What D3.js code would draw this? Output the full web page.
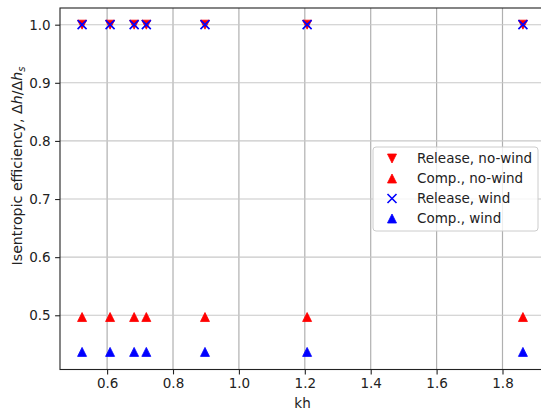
<!DOCTYPE html>
<html>
<head>
<meta charset="utf-8">
<script src="https://cdn.jsdelivr.net/npm/d3@7"></script>
<style>
  body { margin: 0; background: #fff; }
  svg { display: block; font-family: "DejaVu Sans", sans-serif; }
</style>
</head>
<body>
<div id="chart"></div>
<script>
// values
const kh = [0.524, 0.609, 0.682, 0.719, 0.897, 1.207, 1.862];
const releaseNoWind = [1, 1, 1, 1, 1, 1, 1];
const compNoWind = [0.497, 0.497, 0.497, 0.497, 0.497, 0.497, 0.497];
const releaseWind = [1, 1, 1, 1, 1, 1, 1];
const compWind = [0.437, 0.437, 0.437, 0.437, 0.437, 0.437, 0.437];
const xTicks = [0.6, 0.8, 1.0, 1.2, 1.4, 1.6, 1.8];
const yTicks = [0.5, 0.6, 0.7, 0.8, 0.9, 1.0];
const legendLabels = ['Release, no-wind', 'Comp., no-wind', 'Release, wind', 'Comp., wind'];

const width = 541, height = 411;
const margin = { top: 8, right: -4, bottom: 41.5, left: 60 };
const fontSize = 13.5;

const svg = d3.select('#chart').append('svg')
  .attr('width', width)
  .attr('height', height);

const x = d3.scaleLinear()
  .domain([0.457, 1.929])
  .range([margin.left, width - margin.right]);

const y = d3.scaleLinear()
  .domain([0.4067, 1.0287])
  .range([height - margin.bottom, margin.top]);

// grid
const grid = svg.append('g');
grid.selectAll('line.vx')
  .data(xTicks)
  .join('line')
  .attr('class', 'vx')
  .attr('x1', d => x(d)).attr('x2', d => x(d))
  .attr('y1', y.range()[0]).attr('y2', y.range()[1])
  .attr('stroke', '#b0b0b0')
  .attr('stroke-width', 1.2);
grid.selectAll('line.hy')
  .data(yTicks)
  .join('line')
  .attr('class', 'hy')
  .attr('x1', x.range()[0]).attr('x2', x.range()[1])
  .attr('y1', d => y(d)).attr('y2', d => y(d))
  .attr('stroke', '#c8c8c8')
  .attr('stroke-width', 1.1);

// axes
const xAxis = svg.append('g')
  .attr('transform', `translate(0,${y.range()[0]})`)
  .call(d3.axisBottom(x).tickValues(xTicks).tickFormat(d3.format('.1f')).tickSizeOuter(0).tickSize(4.9).tickPadding(4.5));
const yAxis = svg.append('g')
  .attr('transform', `translate(${x.range()[0]},0)`)
  .call(d3.axisLeft(y).tickValues(yTicks).tickFormat(d3.format('.1f')).tickSizeOuter(0).tickSize(4.9).tickPadding(4.5));

[xAxis, yAxis].forEach(a => {
  a.select('.domain').remove();
  a.selectAll('.tick line').attr('stroke', '#222').attr('stroke-width', 1.1);
  a.selectAll('.tick text')
    .attr('fill', '#222')
    .style('font-size', `${fontSize}px`)
    .style('font-family', '"DejaVu Sans", sans-serif');
});

// spines
svg.append('rect')
  .attr('x', x.range()[0])
  .attr('y', y.range()[1])
  .attr('width', x.range()[1] - x.range()[0])
  .attr('height', y.range()[0] - y.range()[1])
  .attr('fill', 'none')
  .attr('stroke', '#222')
  .attr('stroke-width', 1.1);

// axis labels
svg.append('text')
  .attr('x', (x.range()[0] + x.range()[1]) / 2)
  .attr('y', 407.5)
  .attr('text-anchor', 'middle')
  .attr('fill', '#222')
  .style('font-size', `${fontSize}px`)
  .text('kh');

const yl = svg.append('text')
  .attr('transform', 'translate(22,166) rotate(-90)')
  .attr('text-anchor', 'middle')
  .attr('fill', '#222')
  .style('font-size', '14.2px');
yl.append('tspan').text('Isentropic efficiency, Δ');
yl.append('tspan').attr('font-style', 'italic').text('h');
yl.append('tspan').text('/Δ');
yl.append('tspan').attr('font-style', 'italic').text('h');
yl.append('tspan').attr('font-style', 'italic').attr('dy', 3).style('font-size', '10px').text('s');

// markers
const ms = 9;
const triUp = `M0,${-ms / 2}L${ms / 2},${ms / 2}L${-ms / 2},${ms / 2}Z`;
const triDown = `M0,${ms / 2}L${ms / 2},${-ms / 2}L${-ms / 2},${-ms / 2}Z`;
const cross = `M${-ms / 2},${-ms / 2}L${ms / 2},${ms / 2}M${-ms / 2},${ms / 2}L${ms / 2},${-ms / 2}`;

const series = [
  { vals: releaseNoWind, path: triDown, color: 'red', fill: true },
  { vals: compNoWind, path: triUp, color: 'red', fill: true },
  { vals: releaseWind, path: cross, color: 'blue', fill: false },
  { vals: compWind, path: triUp, color: 'blue', fill: true }
];

function styleMarker(sel, s) {
  sel.attr('d', s.path)
    .attr('fill', s.fill ? s.color : 'none')
    .attr('stroke', s.color)
    .attr('stroke-width', s.fill ? 0.8 : 1.6)
    .attr('stroke-linejoin', 'miter');
}

const marks = svg.append('g');
series.forEach(s => {
  marks.append('g')
    .selectAll('path')
    .data(kh.map((k, i) => [k, s.vals[i]]))
    .join('path')
    .attr('transform', d => `translate(${x(d[0])},${y(d[1])})`)
    .call(styleMarker, s);
});

// legend
const lg = svg.append('g').attr('transform', 'translate(373,147)');
lg.append('rect')
  .attr('width', 165)
  .attr('height', 84)
  .attr('rx', 3)
  .attr('fill', 'rgba(255,255,255,0.8)')
  .attr('stroke', '#cccccc')
  .attr('stroke-width', 1);
legendLabels.forEach((lab, i) => {
  const row = lg.append('g').attr('transform', `translate(0,${11.5 + i * 20})`);
  row.append('path')
    .attr('transform', 'translate(19,0)')
    .call(styleMarker, series[i]);
  row.append('text')
    .attr('x', 44)
    .attr('y', 0)
    .attr('dy', '0.35em')
    .attr('fill', '#222')
    .style('font-size', `${fontSize}px`)
    .text(lab);
});
</script>
</body>
</html>
